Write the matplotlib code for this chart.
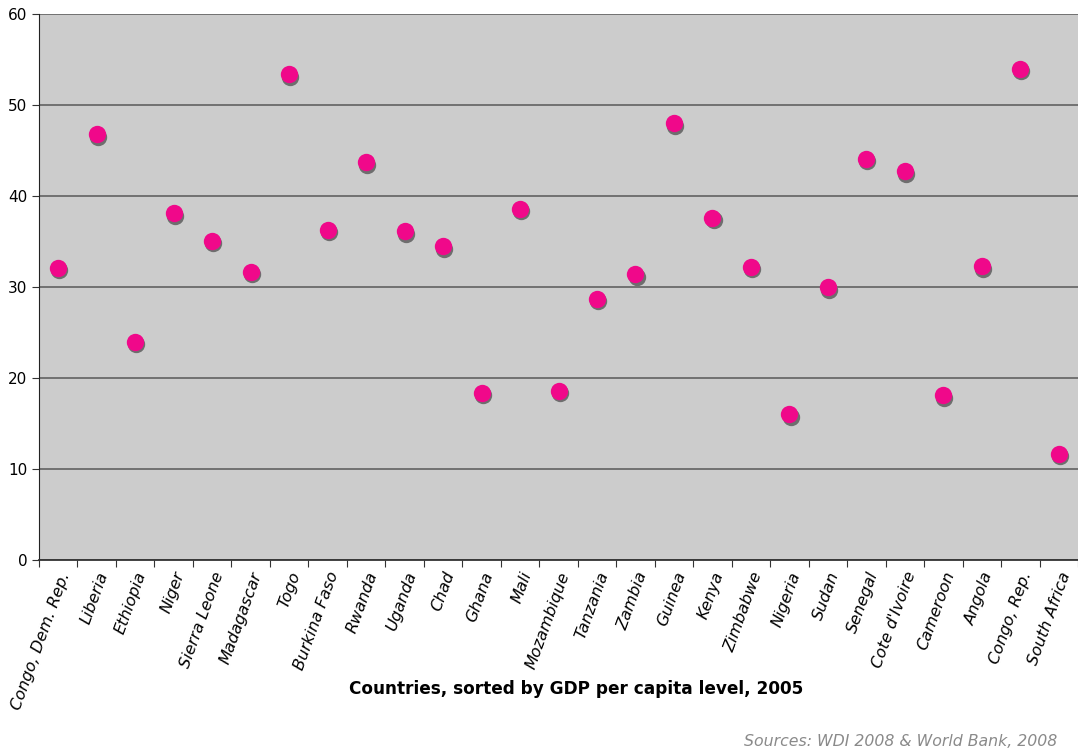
import numpy as np
import matplotlib
matplotlib.use('Agg')
import matplotlib.pyplot as plt
import matplotlib.transforms as mtransforms

plt.rcParams["font.family"] = "DejaVu Sans"

countries = ['Congo, Dem. Rep.', 'Liberia', 'Ethiopia', 'Niger', 'Sierra Leone',
             'Madagascar', 'Togo', 'Burkina Faso', 'Rwanda', 'Uganda', 'Chad',
             'Ghana', 'Mali', 'Mozambique', 'Tanzania', 'Zambia', 'Guinea', 'Kenya',
             'Zimbabwe', 'Nigeria', 'Sudan', 'Senegal', "Cote d'Ivoire", 'Cameroon',
             'Angola', 'Congo, Rep.', 'South Africa']
values = [32.1, 46.8, 24.0, 38.1, 35.1, 31.7, 53.4, 36.3, 43.7, 36.1, 34.5,
          18.4, 38.6, 18.6, 28.7, 31.4, 48.0, 37.6, 32.2, 16.0, 30.0, 44.1,
          42.7, 18.1, 32.3, 54.0, 11.7]
yticks = [0, 10, 20, 30, 40, 50, 60]

fig = plt.figure(figsize=(10.78, 7.53), dpi=100)
ax = fig.add_axes([39/1078, 1 - 560/753, 1 - 39/1078, (560 - 14)/753])
ax.set_facecolor('#cccccc')

x = np.arange(len(countries))
# drop shadow: same points shifted a little right and down
shadow = mtransforms.offset_copy(ax.transData, fig=fig, x=0.8, y=-1.8, units='points')
ax.plot(x, values, 'o', color='#6e6e6e', markersize=12.5, markeredgewidth=0,
        transform=shadow, zorder=3)
ax.plot(x, values, 'o', color='#f0088a', markersize=12.5, markeredgewidth=0, zorder=4)

ax.set_xlim(-0.5, len(countries) - 0.5)
ax.set_ylim(0, 60)
ax.set_yticks(yticks)
ax.yaxis.grid(True, color='#6a6a6a', linewidth=1.3)
ax.set_axisbelow(True)

# tick marks at category boundaries, labels at centres
ax.set_xticks(np.arange(-0.5, len(countries)), minor=False)
ax.set_xticklabels([])
ax.set_xticks(x, minor=True)
ax.set_xticklabels(countries, minor=True, rotation=70, ha='right',
                   rotation_mode='anchor', fontsize=11.5, style='italic')
ax.tick_params(axis='x', which='minor', length=0, pad=7)
ax.tick_params(axis='x', which='major', length=5, color='#333333')
ax.tick_params(axis='y', length=5, labelsize=11, color='#333333')

for s in ['top', 'right']:
    ax.spines[s].set_visible(False)
ax.spines['left'].set_color('#222222')
ax.spines['bottom'].set_color('#333333')
ax.spines['bottom'].set_linewidth(1.3)

fig.text(0.534, 1 - 689/753, 'Countries, sorted by GDP per capita level, 2005',
         ha='center', va='center', fontsize=12.2, fontweight='bold')
fig.text(1057/1078, 1 - 741/753, 'Sources: WDI 2008 & World Bank, 2008',
         ha='right', va='center', fontsize=11.3, style='italic', color='#8a8a8a')

fig.savefig('out.png', dpi=100)
